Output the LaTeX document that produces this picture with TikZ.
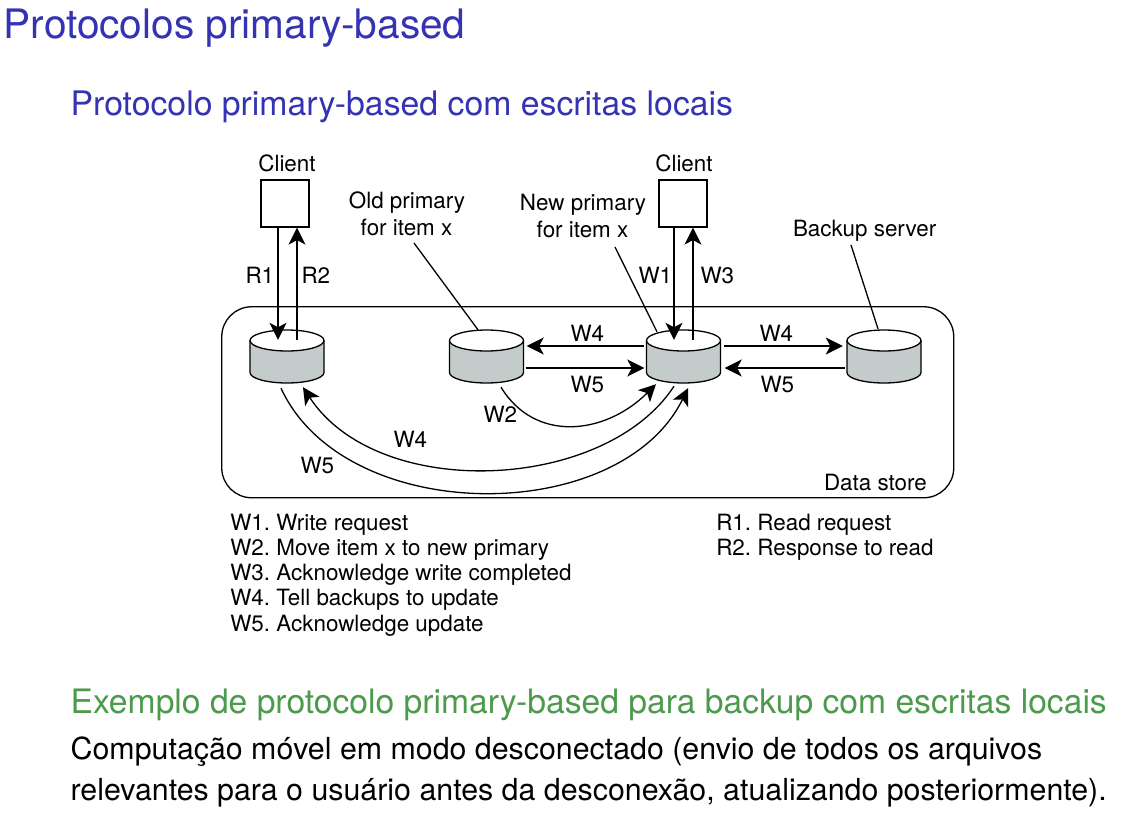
\documentclass[tikz,border=0pt]{standalone}
\usepackage{fontspec}
\setmainfont{TeX Gyre Heros}
\usetikzlibrary{arrows.meta}
\definecolor{slideblue}{RGB}{51,51,179}
\definecolor{slidegreen}{RGB}{76,155,76}
\definecolor{cylfill}{RGB}{195,204,202}
\newcommand{\fsz}[1]{\fontsize{#1}{#1}\selectfont}
\tikzset{
  lab/.style={inset,anchor=base west},
  inset/.style={inner sep=0pt,outer sep=0pt,text=black,font=\fsz{22.4}},
  mid/.style={inset,anchor=base},
  head/.style={inner sep=0pt,anchor=base west},
  ln/.style={line width=1.3pt,black},
  arr/.style={ln,-{Stealth[length=17pt,width=17pt,inset=4.5pt]}},
  clientbox/.style={draw=black,line width=1.2pt,fill=white,minimum width=48pt,minimum height=47pt,inner sep=0pt},
  cylbox/.style={minimum width=74pt,minimum height=53pt,inner sep=0pt}
}
\newcommand{\cyl}[2]{%
  \node[cylbox] (#1) at (#2,356.5) {};
  \fill[cylfill] (#2-37,340.5) -- (#2-37,372.5) arc[start angle=180,end angle=360,x radius=37pt,y radius=10.5pt] -- (#2+37,340.5) -- cycle;
  \draw[ln] (#2-37,340.5) -- (#2-37,372.5) arc[start angle=180,end angle=360,x radius=37pt,y radius=10.5pt] -- (#2+37,340.5);
  \draw[ln,fill=white] (#2,340.5) ellipse[x radius=37pt,y radius=10.5pt];
}
\begin{document}
\frenchspacing
\begin{tikzpicture}[x=1pt,y=-1pt]
\useasboundingbox (0,0) rectangle (1125,825);
\fill[white] (0,0) rectangle (1125,825);
% slide headings and text
\node[head,text=slideblue,font=\fsz{40.6}] (title) at (3.4,38) {Protocolos primary-based};
\node[head,text=slideblue,font=\fsz{33.8}] (sub) at (70.4,115) {Protocolo primary-based com escritas locais};
\node[head,text=slidegreen,font=\fsz{33.65}] (ex) at (70.4,713) {Exemplo de protocolo primary-based para backup com escritas locais};
\node[head,font=\fsz{30.35}] (bodya) at (70.4,759) {Computação móvel em modo desconectado (envio de todos os arquivos};
\node[head,font=\fsz{30.35}] (bodyb) at (70.4,800) {relevantes para o usuário antes da desconexão, atualizando posteriormente).};
% data store
\node[draw=black,line width=1.3pt,rounded corners=30pt,minimum width=732pt,minimum height=191pt,inner sep=0pt] (store) at (587.75,402.25) {};
% cylinders
\cyl{da}{287}
\cyl{db}{486.5}
\cyl{dc}{683.5}
\cyl{dd}{884}
% clients
\node[clientbox] (ca) at (285,203.5) {};
\node[clientbox] (cb) at (683,203.5) {};
\node[mid] (cla) at (287,171.5) {Client};
\node[mid] (clb) at (684,171.5) {Client};
% captions
\node[mid] (olda) at (407,208.5) {Old primary};
\node[mid] (oldb) at (406.5,235.5) {for item x};
\node[mid] (newa) at (583,210.5) {New primary};
\node[mid] (newb) at (582.5,237.5) {for item x};
\node[lab] (backup) at (793,236.5) {Backup server};
\coordinate (oldend) at (414,243);
\coordinate (newend) at (615,247);
\coordinate (bakend) at (851,245);
\draw[ln] (oldend) -- ([xshift=-8.5pt]db.north);
\draw[ln] (newend) -- ([xshift=-26.5pt,yshift=-2pt]dc.north);
\draw[ln] (bakend) -- ([xshift=-6pt,yshift=1pt]dd.north);
% vertical arrows
\draw[arr,line width=1.5pt] ([xshift=-7pt]ca.south) -- ([xshift=-9pt,yshift=-10pt]da.north);
\draw[arr,line width=1.15pt] ([xshift=10pt,yshift=-10pt]da.north) -- ([xshift=12pt]ca.south);
\draw[arr,line width=1.5pt] ([xshift=-9pt]cb.south) -- ([xshift=-9.5pt,yshift=-10pt]dc.north);
\draw[arr,line width=1.15pt] ([xshift=9.5pt,yshift=-10pt]dc.north) -- ([xshift=10pt]cb.south);
\node[lab] (ra) at (245.5,283.5) {R1};
\node[lab] (rb) at (301.5,283.5) {R2};
\node[lab] (wa) at (638.5,283.5) {W1};
\node[lab] (wc) at (700.5,283.5) {W3};
% horizontal arrows
\draw[arr] ([xshift=-2pt,yshift=10.5pt]dc.west) -- ([xshift=3pt,yshift=10.5pt]db.east);
\draw[arr] ([xshift=2pt,yshift=-11.5pt]db.east) -- ([xshift=-2pt,yshift=-11.5pt]dc.west);
\draw[arr] ([xshift=3pt,yshift=10.5pt]dc.east) -- ([xshift=-4pt,yshift=10.5pt]dd.west);
\draw[arr] ([xshift=-2pt,yshift=-11.5pt]dd.west) -- ([xshift=4pt,yshift=-11.5pt]dc.east);
\node[lab] (wd) at (570.5,341.5) {W4};
\node[lab] (we) at (570.5,392.5) {W5};
\node[lab] (wf) at (759.5,341.5) {W4};
\node[lab] (wg) at (760.5,392.5) {W5};
% curved arrows
\draw[arr] ([xshift=14.5pt,yshift=-4pt]db.south) .. controls (535,443) and (605,435) .. ([xshift=-27.5pt,yshift=-1pt]dc.south);
\draw[arr] ([xshift=-9.5pt,yshift=-3pt]dc.south) .. controls (605,492) and (378,502) .. ([xshift=16pt,yshift=-4pt]da.south);
\draw[arr] ([xshift=-6pt,yshift=-5pt]da.south) .. controls (345,527) and (620,527) .. ([xshift=4.5pt,yshift=-5pt]dc.south);
\node[lab] (wb) at (483.5,422.5) {W2};
\node[lab] (wh) at (393.5,447.5) {W4};
\node[lab] (wi) at (300.5,473.5) {W5};
\node[lab] (ds) at (824,490.5) {Data store};
% legends
\node[lab] (la) at (230.3,530.3) {W1. Write request};
\node[lab] (lb) at (230.3,555.3) {W2. Move item x to new primary};
\node[lab] (lc) at (230.3,580.3) {W3. Acknowledge write completed};
\node[lab] (ld) at (230.3,605.3) {W4. Tell backups to update};
\node[lab] (le) at (230.3,631) {W5. Acknowledge update};
\node[lab] (lf) at (716.3,530.3) {R1. Read request};
\node[lab] (lg) at (716.3,555.3) {R2. Response to read};
\end{tikzpicture}
\end{document}
